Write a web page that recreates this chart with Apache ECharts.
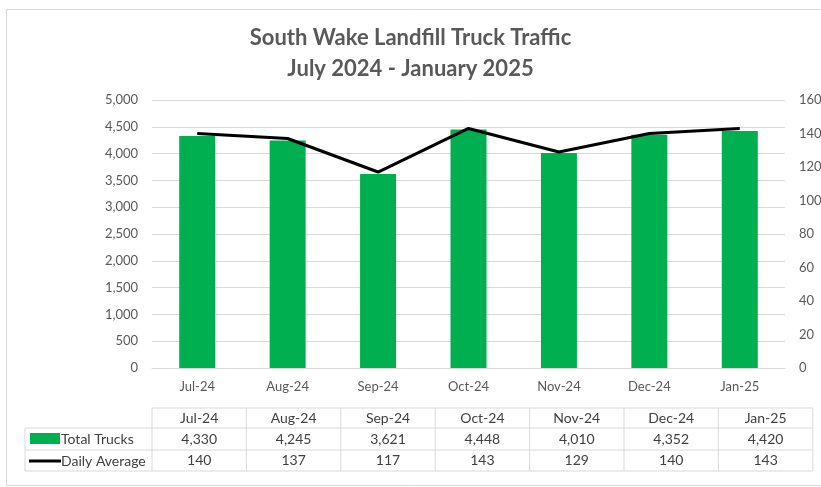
<!DOCTYPE html>
<html>
<head>
  <meta charset="utf-8">
  <title>South Wake Landfill Truck Traffic</title>
  <script src="https://cdn.jsdelivr.net/npm/echarts@6/dist/echarts.min.js"></script>
  <style>
    html, body { margin: 0; padding: 0; background: #fff; }
  </style>
</head>
<body>
  <div id="main" style="width: 821px;height:487px;"></div>
  <script type="text/javascript">
    // data
    var months = ['Jul-24', 'Aug-24', 'Sep-24', 'Oct-24', 'Nov-24', 'Dec-24', 'Jan-25'];
    var totalTrucks = [4330, 4245, 3621, 4448, 4010, 4352, 4420];
    var dailyAverage = [140, 137, 117, 143, 129, 140, 143];
    var seriesNames = ['Total Trucks', 'Daily Average'];

    var FONT = 'Lato, "Open Sans", sans-serif';
    var GREEN = '#00B050';
    var TEXT = '#595959';

    var myChart = echarts.init(document.getElementById('main'));

    function fmt(v) {
      return v.toLocaleString('en-US');
    }

    // data table under the chart (built from the arrays above)
    function buildTable() {
      var els = [];
      var x0 = 152, colW = 94.4, labelX = 25;
      var rows = [408, 428, 450, 471];
      var xEnd = x0 + colW * months.length;
      var line = { stroke: '#d9d9d9', lineWidth: 1 };
      // horizontal lines
      els.push({ type: 'line', shape: { x1: x0, y1: rows[0], x2: xEnd, y2: rows[0] }, style: line });
      for (var r = 1; r < rows.length; r++) {
        els.push({ type: 'line', shape: { x1: labelX, y1: rows[r], x2: xEnd, y2: rows[r] }, style: line });
      }
      // vertical lines
      els.push({ type: 'line', shape: { x1: labelX, y1: rows[1], x2: labelX, y2: rows[3] }, style: line });
      for (var c = 0; c <= months.length; c++) {
        var xx = x0 + c * colW;
        els.push({ type: 'line', shape: { x1: xx, y1: rows[0], x2: xx, y2: rows[3] }, style: line });
      }
      var rowVals = [months, totalTrucks.map(fmt), dailyAverage.map(String)];
      for (var rr = 0; rr < 3; rr++) {
        for (var i = 0; i < months.length; i++) {
          els.push({
            type: 'text',
            x: x0 + (i + 0.5) * colW,
            y: (rows[rr] + rows[rr + 1]) / 2,
            style: { text: rowVals[rr][i], font: '14px ' + FONT, fill: '#404040', align: 'center', verticalAlign: 'middle' }
          });
        }
      }
      // legend keys
      els.push({ type: 'rect', shape: { x: 30, y: 433, width: 30, height: 11 }, style: { fill: GREEN } });
      els.push({ type: 'line', shape: { x1: 29, y1: 461, x2: 61, y2: 461 }, style: { stroke: '#000', lineWidth: 3 } });
      els.push({ type: 'text', x: 61, y: 439, style: { text: seriesNames[0], font: '14px ' + FONT, fill: '#404040', verticalAlign: 'middle' } });
      els.push({ type: 'text', x: 61, y: 461, style: { text: seriesNames[1], font: '14px ' + FONT, fill: '#404040', verticalAlign: 'middle' } });
      return els;
    }

    var graphics = [
      { type: 'rect', shape: { x: 6.5, y: 9.5, width: 900, height: 476 }, style: { fill: 'none', stroke: '#d9d9d9', lineWidth: 1 }, z: -1 }
    ].concat(buildTable());

    var option = {
      backgroundColor: '#fff',
      animation: false,
      textStyle: { fontFamily: FONT },
      title: {
        text: 'South Wake Landfill Truck Traffic\nJuly 2024 - January 2025',
        left: 'center',
        top: 17,
        textStyle: { fontSize: 22, fontWeight: 'bold', color: TEXT, lineHeight: 31, fontFamily: FONT }
      },
      grid: { left: 152, right: 36, top: 100, bottom: 119, outerBoundsMode: 'none', containLabel: false },
      xAxis: {
        type: 'category',
        data: months,
        axisLine: { lineStyle: { color: '#d9d9d9' } },
        axisTick: { show: false },
        axisLabel: { color: TEXT, fontSize: 13, margin: 12 }
      },
      yAxis: [
        {
          type: 'value', min: 0, max: 5000, interval: 500,
          axisLabel: { color: TEXT, fontSize: 13, margin: 14, formatter: function (v) { return fmt(v); } },
          splitLine: { lineStyle: { color: '#d9d9d9' } },
          axisLine: { show: false }, axisTick: { show: false }
        },
        {
          type: 'value', min: 0, max: 160, interval: 20,
          axisLabel: { color: TEXT, fontSize: 13, margin: 14 },
          splitLine: { show: false },
          axisLine: { show: false }, axisTick: { show: false }
        }
      ],
      series: [
        {
          name: seriesNames[0], type: 'bar', data: totalTrucks, barWidth: 36,
          itemStyle: { color: GREEN }
        },
        {
          name: seriesNames[1], type: 'line', yAxisIndex: 1, data: dailyAverage,
          symbol: 'none', lineStyle: { color: '#000', width: 3 }
        }
      ],
      graphic: graphics
    };

    myChart.setOption(option);
  </script>
</body>
</html>
